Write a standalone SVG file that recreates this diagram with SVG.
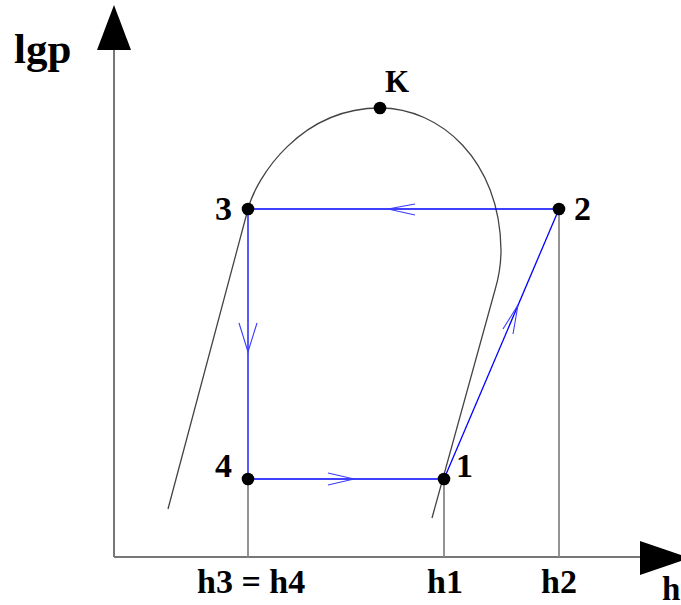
<svg xmlns="http://www.w3.org/2000/svg" width="681" height="605" viewBox="0 0 681 605">
<style>
.lbl{font-family:"Liberation Serif","Times New Roman",serif;font-weight:bold;fill:#000}
.axis{stroke:#777;stroke-width:2;fill:none}
.guide{stroke:#888;stroke-width:1.8;fill:none}
.curve{stroke:#444;stroke-width:1.3;fill:none}
.cyc{stroke:#0000ff;stroke-width:1.3;fill:none}
.chev{stroke:#3a3aff;stroke-width:1.1;fill:none}
.dot{fill:#000}
</style>
<rect width="681" height="605" fill="#fff"/>
<g id="axes">
<line class="axis" x1="114" y1="48" x2="114" y2="557"/>
<line class="axis" x1="114" y1="557" x2="642" y2="557"/>
<polygon points="114,5 97,50 131,50" fill="#000"/>
<polygon points="640,541 690,558 640,575" fill="#000"/>
<text class="lbl" x="14" y="63" font-size="43">lgp</text>
<text class="lbl" x="662" y="600" font-size="33">h</text>
</g>
<g id="guides">
<line class="guide" x1="248" y1="479" x2="248" y2="557"/>
<line class="guide" x1="444" y1="479" x2="444" y2="557"/>
<line class="guide" x1="559" y1="209" x2="559" y2="557" stroke-width="1.3"/>
</g>
<g id="saturation-curve">
<path class="curve" d="M168,509 L248,209 C256,178 300,108 380,108 C440,108 500,160 501,250 C501,268 498,280 495,290 L432,518"/>
</g>
<g id="connectors">
<line class="cyc" x1="559" y1="209" x2="248" y2="209"/>
<line class="cyc" x1="248" y1="209" x2="248" y2="479"/>
<line class="cyc" x1="248" y1="479" x2="444" y2="479"/>
<line class="cyc" x1="444" y1="479" x2="559" y2="209"/>
<polyline class="chev" points="415,204 388,209 415,215"/>
<polyline class="chev" points="239,323 248,352 257,323"/>
<polyline class="chev" points="328,473 354,479 328,485"/>
<polyline class="chev" points="503,329 518,305 513,334"/>
</g>
<g id="node-K">
<circle class="dot" cx="380" cy="108" r="6.3"/>
<text class="lbl" x="385" y="92" font-size="31">K</text>
</g>
<g id="node-3">
<circle class="dot" cx="248" cy="209" r="6.3"/>
<text class="lbl" x="215" y="220" font-size="34">3</text>
</g>
<g id="node-2">
<circle class="dot" cx="559" cy="209" r="6.3"/>
<text class="lbl" x="574" y="220" font-size="34">2</text>
</g>
<g id="node-4">
<circle class="dot" cx="248" cy="479" r="6.3"/>
<text class="lbl" x="215" y="477" font-size="34">4</text>
</g>
<g id="node-1">
<circle class="dot" cx="444" cy="479" r="6.3"/>
<text class="lbl" x="456" y="477" font-size="34">1</text>
</g>
<g id="h-labels">
<text class="lbl" x="197" y="593" font-size="34">h3 = h4</text>
<text class="lbl" x="427" y="593" font-size="34">h1</text>
<text class="lbl" x="541" y="593" font-size="34">h2</text>
</g>
</svg>
